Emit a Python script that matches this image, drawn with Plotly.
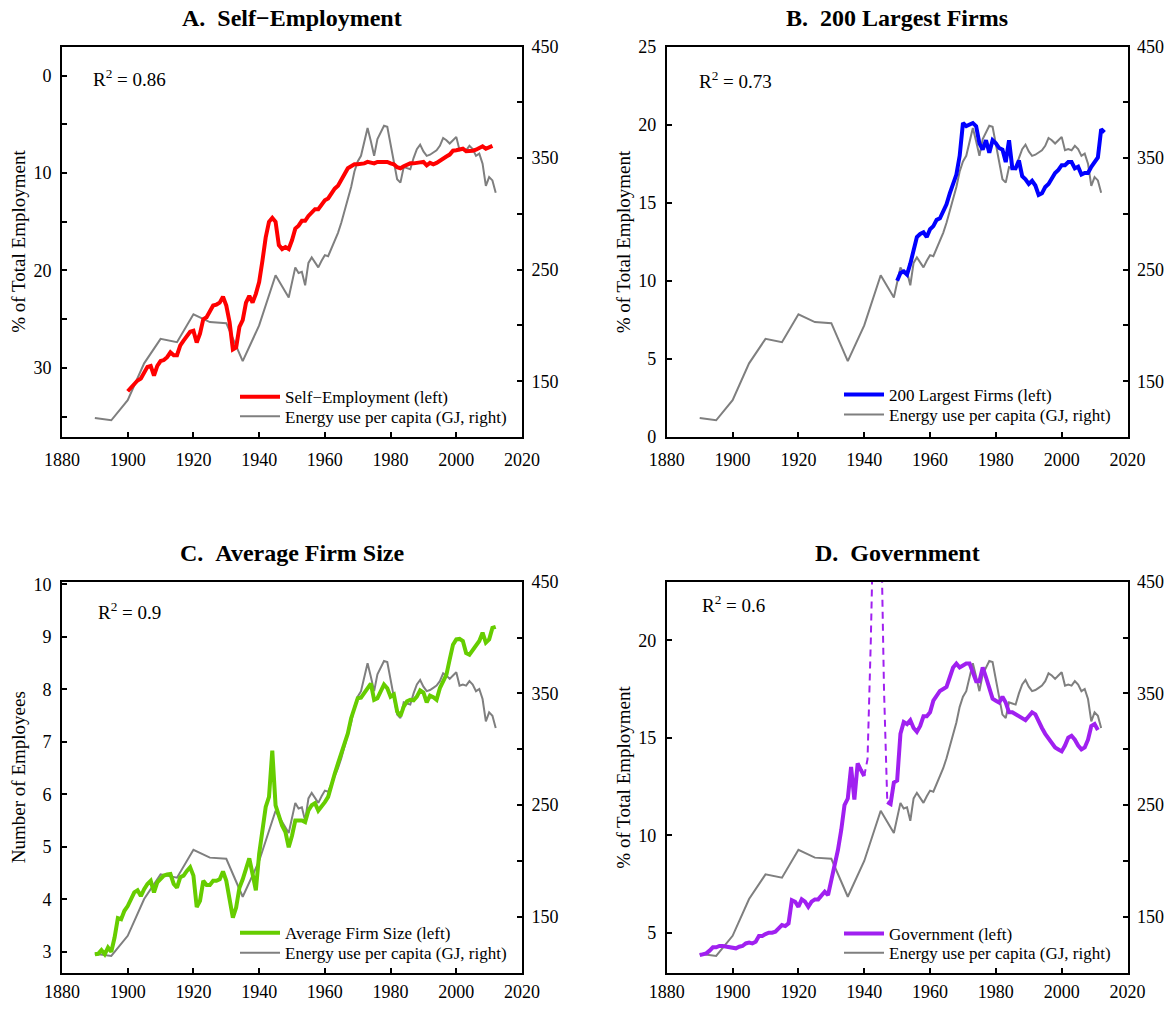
import plotly.graph_objects as go

# Browser page has an 8px body margin; the figure is sized so the page does not scroll.
PAGE_OFF = 8
W, H = 1156, 993


def fx(x):
    return (x - PAGE_OFF) / W


def fy(y):
    return 1 - (y - PAGE_OFF) / H


# ---------------- data ----------------
energy_years = [1890, 1895, 1900, 1905, 1910, 1915, 1920, 1925, 1930, 1935, 1940, 1945,
                1949, 1950, 1951, 1952, 1953, 1954, 1955, 1956, 1957, 1958, 1959,
                1960, 1961, 1962, 1963, 1964, 1965, 1966, 1967, 1968, 1969,
                1970, 1971, 1972, 1973, 1974, 1975, 1976, 1977, 1978, 1979,
                1980, 1981, 1982, 1983, 1984, 1985, 1986, 1987, 1988, 1989,
                1990, 1991, 1992, 1993, 1994, 1995, 1996, 1997, 1998, 1999,
                2000, 2001, 2002, 2003, 2004, 2005, 2006, 2007, 2008, 2009,
                2010, 2011, 2012]
energy_gj = [117, 115, 133, 166, 188, 185, 210, 203, 202, 168, 200, 245,
             225, 239, 252, 247, 248, 236, 256, 261, 257, 252, 258,
             263, 262, 269, 276, 283, 292, 303, 313, 324, 338,
             347, 352, 365, 377, 365, 352, 367, 373, 379, 378,
             362, 347, 331, 328, 342, 341, 340, 350, 358, 362,
             356, 352, 353, 355, 357, 361, 368, 366, 363, 366,
             369, 357, 358, 357, 361, 358, 352, 354, 345, 325,
             333, 330, 319]

selfemp_years = list(range(1900, 2012))
selfemp_pct = [32.4, 32.0, 31.7, 31.3, 31.1, 30.5, 29.9, 29.8, 30.8, 29.8,
               29.3, 29.2, 28.9, 28.4, 28.7, 28.7, 27.7, 27.2, 26.7, 26.3,
               26.2, 27.4, 26.5, 25.0, 24.8, 24.1, 23.6, 23.5, 23.3, 22.7,
               23.6, 25.3, 28.1, 27.9, 25.8, 25.1, 23.3, 22.6, 23.3, 22.4,
               21.2, 19.0, 16.6, 15.0, 14.6, 15.0, 17.4, 17.8, 17.6, 17.8,
               16.9, 15.7, 15.4, 14.9, 14.9, 14.4, 14.0, 13.7, 13.7, 13.2,
               12.8, 12.6, 12.1, 11.6, 11.3, 10.7, 10.0, 9.5, 9.3, 9.1,
               9.1, 9.1, 9.0, 8.85, 8.9, 9.0, 8.85, 8.85, 8.85, 8.85,
               9.0, 9.1, 9.4, 9.5, 9.3, 9.1, 9.0, 9.0, 9.0, 8.9,
               8.85, 9.2, 8.95, 9.1, 8.95, 8.7, 8.5, 8.3, 8.1, 7.7,
               7.65, 7.6, 7.5, 7.75, 7.75, 7.7, 7.6, 7.4, 7.25, 7.5,
               7.4, 7.2]

firms_years = list(range(1950, 2014))
firms_pct = [10.0, 10.5, 10.6, 10.4, 11.1, 12.1, 12.8, 13.0, 13.1, 12.8,
             13.3, 13.5, 13.9, 14.0, 14.4, 14.9, 15.6, 16.2, 16.8, 18.0,
             20.1, 19.9, 20.0, 20.1, 19.9, 18.8, 18.4, 19.0, 18.2, 19.0,
             18.8, 18.5, 18.4, 17.6, 19.0, 17.2, 17.2, 17.7, 16.7, 16.5,
             16.2, 16.4, 16.1, 15.5, 15.6, 16.0, 16.2, 16.6, 16.9, 17.1,
             17.4, 17.4, 17.6, 17.6, 17.2, 17.3, 16.8, 16.9, 16.9, 17.3,
             17.6, 17.9, 19.7, 19.5]

firmsize_years = list(range(1890, 2013))
firmsize_emp = [2.95, 2.96, 3.03, 2.95, 3.08, 3.0, 3.27, 3.64, 3.62, 3.78,
                3.87, 4.0, 4.13, 4.17, 4.06, 4.19, 4.29, 4.35, 4.13, 4.32,
                4.38, 4.45, 4.47, 4.48, 4.29, 4.22, 4.42, 4.45, 4.54, 4.61,
                4.45, 3.85, 3.97, 4.35, 4.27, 4.27, 4.35, 4.35, 4.38, 4.53,
                4.35, 4.03, 3.65, 3.84, 4.22, 4.38, 4.61, 4.78, 4.48, 4.17,
                4.86, 5.28, 5.76, 5.95, 6.83, 5.79, 5.6, 5.4, 5.28, 4.99,
                5.21, 5.5, 5.5, 5.5, 5.47, 5.69, 5.79, 5.83, 5.69, 5.76,
                5.85, 5.95, 6.2, 6.39, 6.59, 6.78, 7.03, 7.16, 7.45, 7.67,
                7.83, 7.84, 7.93, 8.0, 8.11, 7.8, 7.83, 7.96, 8.09, 8.02,
                7.86, 7.9, 7.58, 7.49, 7.67, 7.77, 7.8, 7.79, 7.86, 7.98,
                7.94, 7.75, 7.88, 7.85, 7.8, 8.02, 8.15, 8.28, 8.57, 8.85,
                8.95, 8.96, 8.92, 8.69, 8.66, 8.74, 8.82, 8.92, 9.08, 8.89,
                8.95, 9.17, 9.19]

gov_years = list(range(1890, 2012))
gov_pct = [3.85, 3.89, 3.94, 4.08, 4.25, 4.25, 4.32, 4.32, 4.28, 4.25,
           4.2, 4.2, 4.28, 4.32, 4.45, 4.49, 4.45, 4.54, 4.83, 4.83,
           4.93, 5.0, 5.0, 5.05, 5.22, 5.39, 5.34, 5.48, 6.67, 6.59,
           6.33, 6.71, 6.59, 6.33, 6.59, 6.71, 6.71, 6.88, 7.1, 6.93,
           7.7, 8.55, 9.24, 10.26, 11.54, 11.88, 13.5, 11.83, 13.68, 13.34,
           13.03, None, None, None, None, None, None,
           11.7, 11.6, 12.7, 12.8, 15.2, 15.8, 15.7, 15.9, 15.5, 15.3,
           15.6, 16.1, 16.1, 16.3, 16.9, 17.2, 17.4, 17.5, 17.6, 18.1,
           18.6, 18.8, 18.6, 18.7, 18.8, 18.8, 18.4, 17.9, 17.9, 18.6,
           18.1, 17.6, 17.0, 16.9, 16.8, 17.1, 16.8, 16.3, 16.3, 16.2,
           16.1, 16.0, 15.9, 16.1, 16.3, 16.2, 15.8, 15.5, 15.2, 14.96,
           14.7, 14.5, 14.4, 14.3, 14.6, 15.0, 15.1, 14.9, 14.6, 14.4,
           14.5, 14.9, 15.6, 15.7, 15.4]
gov_war_years = [1940, 1941, 1942, 1943, 1944, 1945, 1946, 1947]
gov_war_pct = [13.03, 13.9, 20.0, 30.0, 36.0, 27.0, 17.5, 11.7]

x_ticks = [1880, 1900, 1920, 1940, 1960, 1980, 2000, 2020]
energy_ticks = [150, 250, 350, 450]
energy_minor = [200, 300, 400]

SERIF = "Liberation Serif"
GRAY = "#7F7F7F"
ENERGY_NAME = "Energy use per capita (GJ, right)"

# positions below are in page pixels of the reference picture
panels = [
    dict(title="A.\u00a0\u00a0Self\u2212Employment", name="Self\u2212Employment (left)",
         color="#FF0000", x=selfemp_years, y=selfemp_pct,
         yrange=[37.1, -3.0], ytickvals=[0, 10, 20, 30], yminor=[5, 15, 25, 35],
         ytitle="% of Total Employment", r2="R<sup>2</sup> = 0.86",
         px=(62, 522), py=(46.5, 437), r2pos=(91, 78), ytpos=19,
         leg=(235, 397.3, 416.7), title_y=18.5, xstand=5),
    dict(title="B.\u00a0\u00a0200 Largest Firms", name="200 Largest Firms (left)",
         color="#0000FF", x=firms_years, y=firms_pct,
         yrange=[0, 25], ytickvals=[0, 5, 10, 15, 20, 25], yminor=[],
         ytitle="% of Total Employment", r2="R<sup>2</sup> = 0.73",
         px=(666.8, 1127.5), py=(46.5, 437), r2pos=(696.5, 80), ytpos=623.5,
         leg=(839, 395, 415), title_y=18.5, xstand=5),
    dict(title="C.\u00a0\u00a0Average Firm Size", name="Average Firm Size (left)",
         color="#66CD00", x=firmsize_years, y=firmsize_emp,
         yrange=[2.6, 10.05], ytickvals=[3, 4, 5, 6, 7, 8, 9, 10], yminor=[],
         ytitle="Number of Employees", r2="R<sup>2</sup> = 0.9",
         px=(62, 522), py=(581.7, 972.7), r2pos=(96, 611), ytpos=18,
         leg=(235, 933.3, 953.3), title_y=553, xstand=2),
    dict(title="D.\u00a0\u00a0Government", name="Government (left)",
         color="#A020F0", x=gov_years, y=gov_pct,
         yrange=[2.95, 23.0], ytickvals=[5, 10, 15, 20], yminor=[],
         ytitle="% of Total Employment", r2="R<sup>2</sup> = 0.6",
         px=(666.8, 1127.5), py=(581.7, 972.7), r2pos=(700, 604), ytpos=623.5,
         leg=(839, 934, 953.3), title_y=553, xstand=2),
]

fig = go.Figure()
annotations = []
layout = dict(width=W, height=H, margin=dict(l=0, r=0, t=0, b=0, autoexpand=False),
              paper_bgcolor="white", plot_bgcolor="white",
              font=dict(family=SERIF, color="black", size=18))

axis_common = dict(showgrid=False, zeroline=False, showline=True, linecolor="black",
                   linewidth=2, ticks="inside", ticklen=5, tickwidth=1.5, tickcolor="black",
                   automargin=False,
                   tickfont=dict(family=SERIF, size=18, color="black"))


def minor_ticks(vals):
    if not vals:
        return dict(ticks="")
    return dict(tickmode="array", tickvals=vals, ticks="inside", ticklen=5,
                tickwidth=1.5, tickcolor="black", showgrid=False)


def legend_box(x, y):
    return dict(x=fx(x), y=fy(y), xanchor="left", yanchor="middle",
                bgcolor="rgba(0,0,0,0)", borderwidth=0, tracegroupgap=0,
                itemwidth=40, font=dict(family=SERIF, size=17, color="black"))


for i, p in enumerate(panels):
    xn = "x" if i == 0 else f"x{i + 1}"
    ybase = f"y{2 * i + 1}" if i > 0 else "y"
    yover = f"y{2 * i + 2}"
    xkey = "xaxis" if i == 0 else f"xaxis{i + 1}"
    ybkey = "yaxis" if i == 0 else f"yaxis{2 * i + 1}"
    yokey = f"yaxis{2 * i + 2}"
    leg_main = "legend" if i == 0 else f"legend{2 * i + 1}"
    leg_energy = f"legend{2 * i + 2}"

    xd = [fx(p["px"][0]), fx(p["px"][1])]
    yd = [fy(p["py"][1]), fy(p["py"][0])]

    layout[xkey] = dict(axis_common, domain=xd, anchor=ybase, range=[1880, 2020],
                        tickmode="array", tickvals=x_ticks, mirror=True,
                        ticklabelstandoff=p["xstand"])
    layout[ybkey] = dict(axis_common, domain=yd, anchor=xn, side="right", range=[100, 450],
                         tickmode="array", tickvals=energy_ticks,
                         minor=minor_ticks(energy_minor), ticklabelstandoff=4)
    layout[yokey] = dict(axis_common, overlaying=ybase, anchor=xn, side="left",
                         range=p["yrange"], tickmode="array", tickvals=p["ytickvals"],
                         minor=minor_ticks(p["yminor"]), ticklabelstandoff=5)

    # energy on the base (right) axis, drawn underneath the main series
    fig.add_trace(go.Scatter(x=energy_years, y=energy_gj, mode="lines", name=ENERGY_NAME,
                             line=dict(color=GRAY, width=2), xaxis=xn, yaxis=ybase,
                             legend=leg_energy))
    if i == 3:
        fig.add_trace(go.Scatter(x=gov_war_years, y=gov_war_pct, mode="lines",
                                 line=dict(color=p["color"], width=2, dash="7px,5px"),
                                 xaxis=xn, yaxis=yover, showlegend=False))
    fig.add_trace(go.Scatter(x=p["x"], y=p["y"], mode="lines", name=p["name"],
                             line=dict(color=p["color"], width=4), xaxis=xn, yaxis=yover,
                             legend=leg_main, connectgaps=False))

    layout[leg_main] = legend_box(p["leg"][0], p["leg"][1])
    layout[leg_energy] = legend_box(p["leg"][0], p["leg"][2])

    cx = (p["px"][0] + p["px"][1]) / 2
    annotations.append(dict(text=f"<b>{p['title']}</b>", x=fx(cx), y=fy(p["title_y"]),
                            xref="paper", yref="paper", xanchor="center", yanchor="middle",
                            showarrow=False, font=dict(family=SERIF, size=24, color="black")))
    annotations.append(dict(text=p["r2"], x=fx(p["r2pos"][0]), y=fy(p["r2pos"][1]),
                            xref="paper", yref="paper", xanchor="left", yanchor="middle",
                            showarrow=False, font=dict(family=SERIF, size=19, color="black")))
    annotations.append(dict(text=p["ytitle"], x=fx(p["ytpos"]),
                            y=fy((p["py"][0] + p["py"][1]) / 2),
                            xref="paper", yref="paper", xanchor="center", yanchor="middle",
                            textangle=-90, showarrow=False,
                            font=dict(family=SERIF, size=19, color="black")))

layout["annotations"] = annotations
fig.update_layout(**layout)
fig.write_html("out.html")
